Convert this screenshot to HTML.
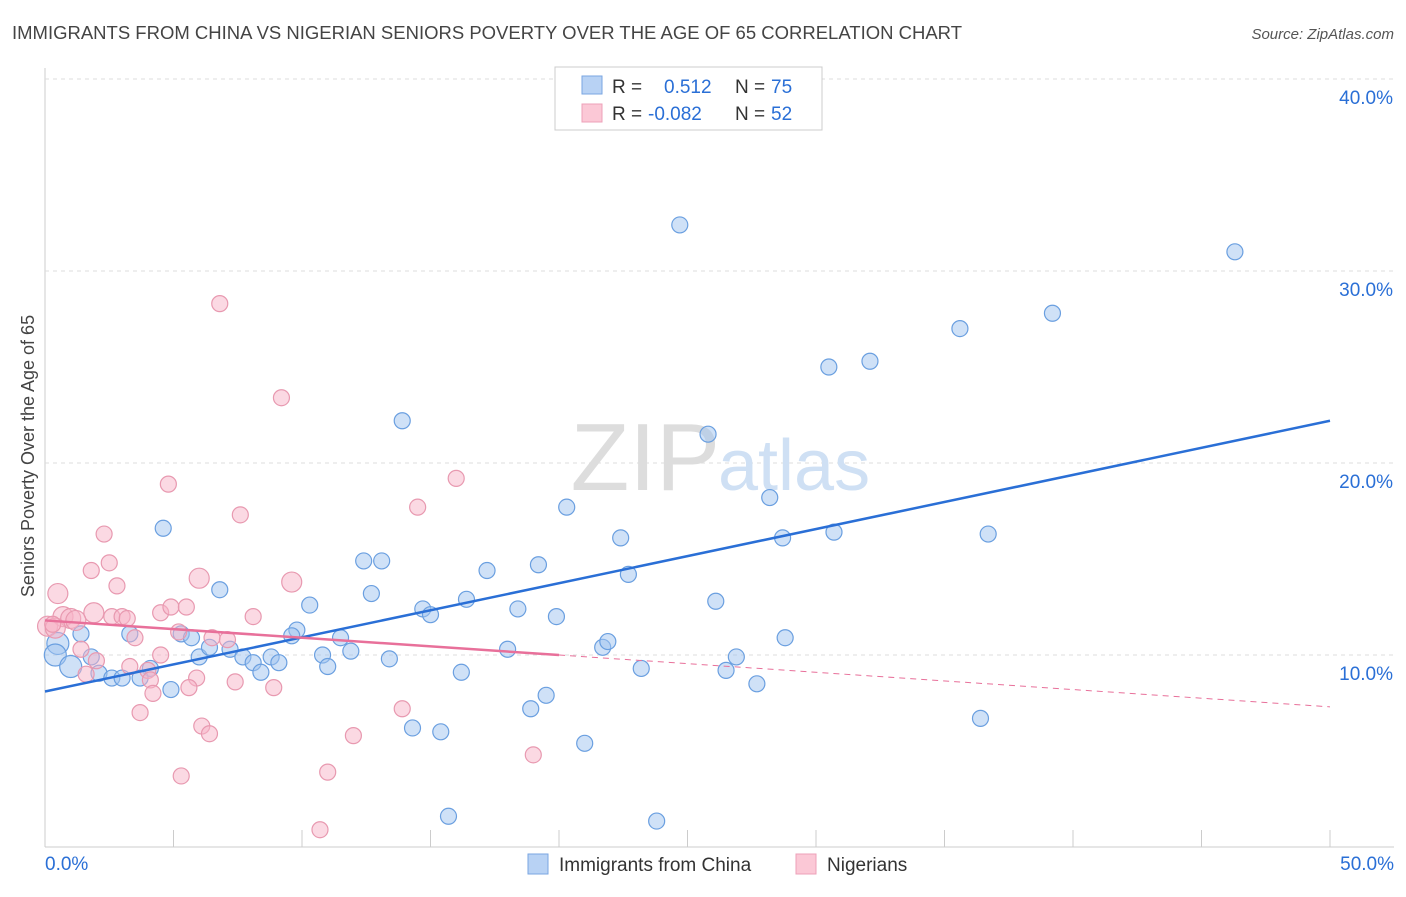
<!DOCTYPE html>
<html><head><meta charset="utf-8"><style>
body{margin:0;background:#fff;font-family:"Liberation Sans",sans-serif}
text{font-family:"Liberation Sans",sans-serif}
</style></head><body>
<svg width="1406" height="892" xmlns="http://www.w3.org/2000/svg">
<text x="12" y="39" font-size="18" fill="#444" textLength="950" lengthAdjust="spacingAndGlyphs">IMMIGRANTS FROM CHINA VS NIGERIAN SENIORS POVERTY OVER THE AGE OF 65 CORRELATION CHART</text>
<text x="1394" y="39" font-size="15" fill="#555" font-style="italic" text-anchor="end">Source: ZipAtlas.com</text>
<g id="grid"></g>
<text x="720" y="490" font-size="96" fill="#ddd" text-anchor="end" font-family="Liberation Serif">ZIP</text>
<text x="718" y="490" font-size="72" fill="#cfe0f4">atlas</text>
<text transform="translate(34,456) rotate(-90)" font-size="18" fill="#444" text-anchor="middle">Seniors Poverty Over the Age of 65</text>
<g id="pts"></g>
<g id="lines"></g>
<g>
<rect x="555" y="67" width="267" height="63" fill="#fff" stroke="#ccc"/>
<rect x="582" y="76" width="20" height="18" fill="#b8d2f4" stroke="#7aa6e2"/>
<rect x="582" y="104" width="20" height="18" fill="#fbc8d6" stroke="#eea0b8"/>
<text x="612" y="93" font-size="19" fill="#333">R = </text><text x="664" y="93" font-size="19" fill="#2a6fd6">0.512</text>
<text x="735" y="93" font-size="19" fill="#333">N = </text><text x="771" y="93" font-size="19" fill="#2a6fd6">75</text>
<text x="612" y="120" font-size="19" fill="#333">R = </text><text x="648" y="120" font-size="19" fill="#2a6fd6">-0.082</text>
<text x="735" y="120" font-size="19" fill="#333">N = </text><text x="771" y="120" font-size="19" fill="#2a6fd6">52</text>
</g>
<g>
<rect x="528" y="854" width="20" height="20" fill="#b8d2f4" stroke="#7aa6e2"/>
<text x="559" y="871" font-size="19" fill="#333">Immigrants from China</text>
<rect x="796" y="854" width="20" height="20" fill="#fbc8d6" stroke="#eea0b8"/>
<text x="827" y="871" font-size="19" fill="#333">Nigerians</text>
</g>
<text x="45" y="870" font-size="19" fill="#2a6fd6">0.0%</text>
<text x="1394" y="870" font-size="19" fill="#2a6fd6" text-anchor="end">50.0%</text>
</svg>
<script>
const yTicks=[10,20,30,40];
const chinaX=[24.7,46.3,35.6,39.2,30.5,32.1,13.9,25.8,28.2,20.3,4.6,22.4,28.7,30.7,36.7,12.4,13.1,19.2,17.2,22.7,6.8,12.7,10.3,16.4,14.7,15,18.4,19.9,26.1,9.8,9.6,11.5,5.3,5.7,3.3,1.4,0.5,0.4,1,1.8,4.1,6,6.4,7.2,7.7,8.1,8.8,9.1,8.4,10.8,11,11.9,13.4,16.2,18,21.7,21.9,23.2,26.5,26.9,28.8,27.7,19.5,18.9,14.3,15.4,21,36.4,2.1,2.6,3,3.7,4.9,15.7,23.8];
const chinaY=[32.4,31,27,27.8,25,25.3,22.2,21.5,18.2,17.7,16.6,16.1,16.1,16.4,16.3,14.9,14.9,14.7,14.4,14.2,13.4,13.2,12.6,12.9,12.4,12.1,12.4,12,12.8,11.3,11,10.9,11.1,10.9,11.1,11.1,10.6,10,9.4,9.9,9.3,9.9,10.4,10.3,9.9,9.6,9.9,9.6,9.1,10,9.4,10.2,9.8,9.1,10.3,10.4,10.7,9.3,9.2,9.9,10.9,8.5,7.9,7.2,6.2,6,5.4,6.7,9.05,8.8,8.8,8.8,8.2,1.6,1.35];
const nigX=[6.8,9.2,4.8,16,14.5,7.6,2.3,2.5,1.8,2.8,0.5,6,9.6,1.9,0.7,1,1.2,0.1,0.4,2.6,3,3.2,4.5,4.9,5.5,8.1,3.5,5.2,6.5,7.1,1.4,2,3.3,4,4.5,1.6,5.9,7.4,4.1,5.6,8.9,4.2,3.7,6.1,6.4,12,13.9,19,5.3,11,10.7,0.3];
const nigY=[28.3,23.4,18.9,19.2,17.7,17.3,16.3,14.8,14.4,13.6,13.2,14,13.8,12.2,12,11.9,11.8,11.5,11.4,12,12,11.9,12.2,12.5,12.5,12,10.9,11.2,10.9,10.8,10.3,9.7,9.4,9.2,10,9,8.8,8.6,8.7,8.3,8.3,8,7,6.3,5.9,5.8,7.2,4.8,3.7,3.9,0.9,11.6];
const X=v=>45+v*1285/50, Y=v=>847-v*19.2;
const ns="http://www.w3.org/2000/svg";
function mk(t,a,p){const e=document.createElementNS(ns,t);for(const k in a)e.setAttribute(k,a[k]);p.appendChild(e);return e;}
const g=document.getElementById('grid');
mk('line',{x1:45,y1:68,x2:45,y2:847,stroke:'#ccc'},g);
mk('line',{x1:45,y1:847,x2:1394,y2:847,stroke:'#ccc'},g);
for(let i=1;i<=10;i++){mk('line',{x1:X(i*5),y1:830,x2:X(i*5),y2:847,stroke:'#ccc'},g);}
yTicks.forEach(t=>{const l=mk('line',{x1:45,y1:Y(t),x2:1394,y2:Y(t),stroke:'#ddd','stroke-dasharray':'4,4'},g);


const tx=mk('text',{x:1393,y:Y(t)+25,'font-size':19,fill:'#2a6fd6','text-anchor':'end'},g);tx.textContent=t.toFixed(1)+'%';

});
const P=document.getElementById('pts');
chinaX.forEach((x,i)=>{const c=mk('circle',{cx:X(x),cy:Y(chinaY[i]),r:i>=36&&i<=38?11:8,fill:'rgba(160,196,240,0.5)',stroke:'#6a9fe0','stroke-width':1.2},P);

});
nigX.forEach((x,i)=>{const c=mk('circle',{cx:X(x),cy:Y(nigY[i]),r:i>=10&&i<=18?10:8,fill:'rgba(248,180,200,0.5)',stroke:'#e899b0','stroke-width':1.2},P);

});
const L=document.getElementById('lines');
const bl=mk('line',{x1:X(0),y1:Y(8.1),x2:X(50),y2:Y(22.2),stroke:'#2a6fd6','stroke-width':2.5},L);


const pl=mk('line',{x1:X(0),y1:Y(11.8),x2:X(20),y2:Y(10.0),stroke:'#e8709a','stroke-width':2.5},L);


const pd=mk('line',{x1:X(20),y1:Y(10.0),x2:X(50),y2:Y(7.3),stroke:'#e8709a','stroke-width':1,'stroke-dasharray':'6,5'},L);


</script>
</body></html>
